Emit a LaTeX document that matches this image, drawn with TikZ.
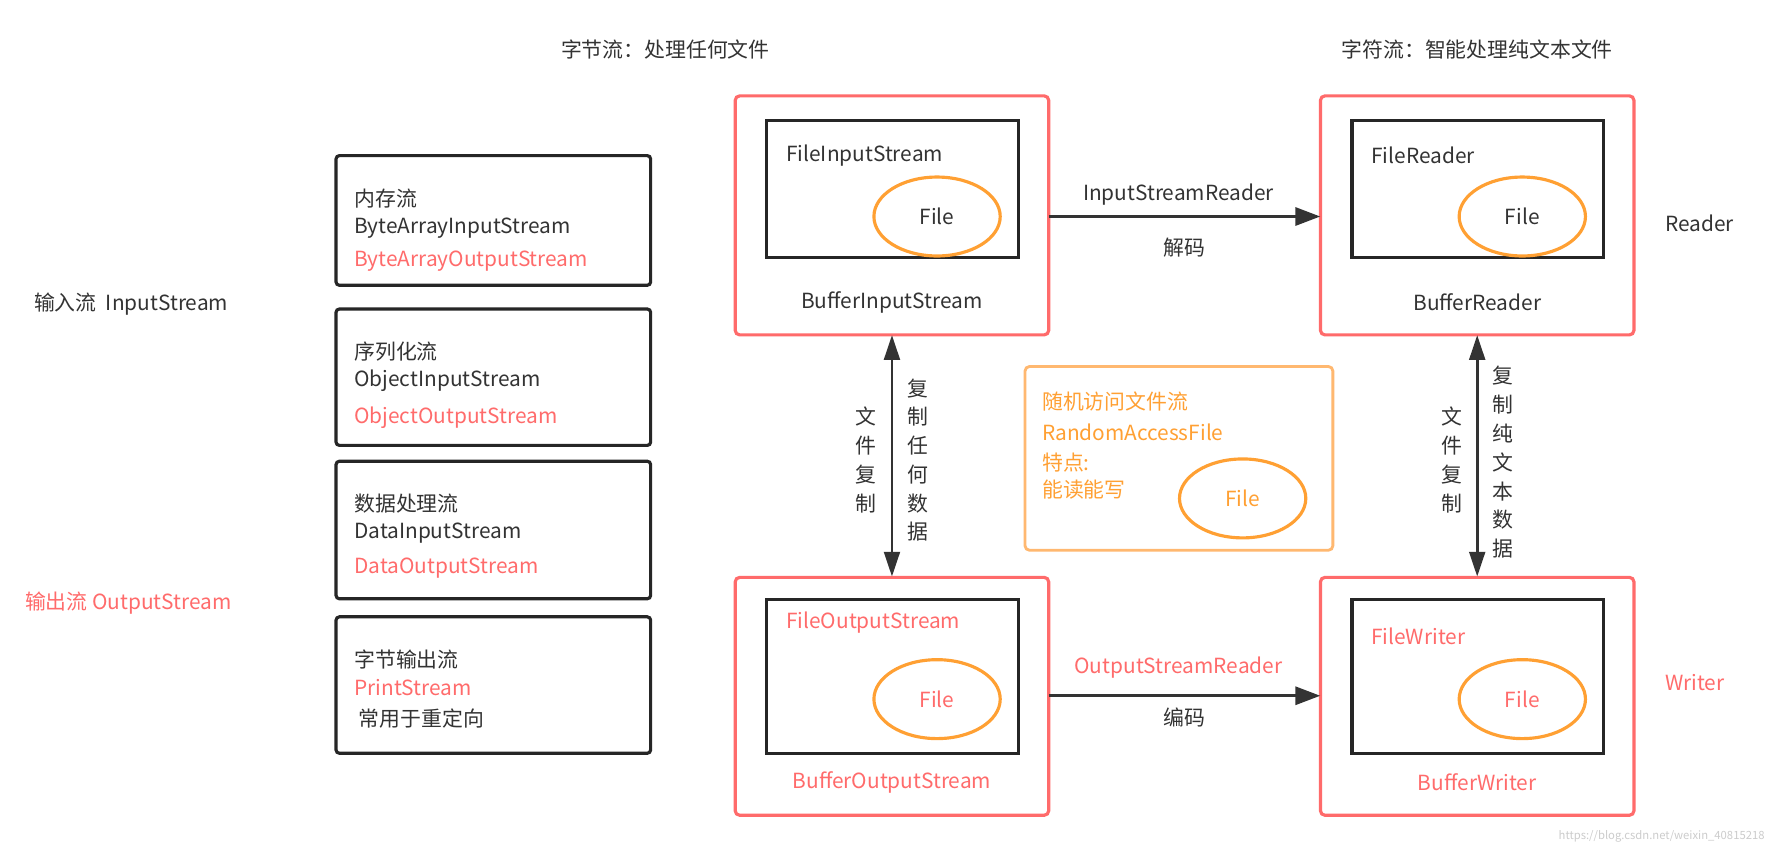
\documentclass[tikz,border=0pt]{standalone}
\usepackage{fontspec}
\setmainfont{Noto Sans CJK SC}
\usetikzlibrary{arrows.meta,shapes.geometric}
\definecolor{rd}{HTML}{FF6B6B}
\definecolor{og}{HTML}{FFA033}
\definecolor{ogb}{HTML}{FFB870}
\definecolor{dk}{HTML}{333333}
\begin{document}
\begin{tikzpicture}[x=1pt,y=-1pt,
  every node/.style={font=\fontsize{18.5}{22}\selectfont, text=dk, inner sep=0},
  red box/.style={draw=rd, line width=2.8pt, rounded corners=4pt},
  blk box/.style={draw=black!85, line width=2.8pt, rounded corners=3pt},
  inner/.style={draw=black!85, line width=2.8pt},
  ell/.style={draw=og, line width=2.8pt, ellipse, minimum width=112pt, minimum height=70pt},
  arr/.style={line width=2.5pt, draw=dk, -{Triangle[length=22pt,width=16pt]}},
  darr/.style={line width=2.5pt, draw=dk, {Triangle[length=22pt,width=14pt]}-{Triangle[length=22pt,width=14pt]}},
  lt/.style={anchor=west},
  rt/.style={text=rd}]
\fill[white] (0,0) rectangle (1567,755);
\useasboundingbox (0,0) rectangle (1567,755);
\node (t1) at (590,44) {字节流：处理任何文件};
\node (t2) at (1310,44) {字符流：智能处理纯文本文件};
\node[lt] (in) at (30,270) {输入流\ \ InputStream};
\node[lt,rt] (out) at (22,535) {输出流 OutputStream};
% left boxes
\draw[blk box] (298,138) rectangle (577,253);
\node[lt] (a1) at (314,176) {内存流};
\node[lt] (a2) at (314,202) {ByteArrayInputStream};
\node[lt,rt] (a3) at (314,232) {ByteArrayOutputStream};
\draw[blk box] (298,274) rectangle (577,395);
\node[lt] (b1) at (314,312) {序列化流};
\node[lt] (b2) at (314,338) {ObjectInputStream};
\node[lt,rt] (b3) at (314,370) {ObjectOutputStream};
\draw[blk box] (298,409) rectangle (577,531);
\node[lt] (c1) at (314,447) {数据处理流};
\node[lt] (c2) at (314,473) {DataInputStream};
\node[lt,rt] (c3) at (314,504) {DataOutputStream};
\draw[blk box] (298,547) rectangle (577,668);
\node[lt] (d1) at (314,585) {字节输出流};
\node[lt,rt] (d2) at (314,610) {PrintStream};
\node[lt] (d3) at (318,637) {常用于重定向};
% top left
\draw[red box] (652,85) rectangle (930,297);
\node (TL) at (791,191) [minimum width=278pt, minimum height=212pt] {};
\draw[inner] (680,107) rectangle (903,228);
\node[lt] (fis) at (697,138) {FileInputStream};
\node[ell] (e1) at (831,192) {File};
\node (bis) at (791,268) {BufferInputStream};
% top right
\node (TR) at (1310,191) [minimum width=278pt, minimum height=212pt] {};
\draw[red box] (1171,85) rectangle (1449,297);
\draw[inner] (1199,107) rectangle (1422,228);
\node[lt] (fr) at (1216,138) {FileReader};
\node[ell] (e2) at (1350,192) {File};
\node (br) at (1310,268) {BufferReader};
\node (rd) at (1507,198) {Reader};
% bottom left
\node (BL) at (791,617) [minimum width=278pt, minimum height=211pt] {};
\draw[red box] (652,512) rectangle (930,723);
\draw[inner] (680,532) rectangle (903,668);
\node[lt,rt] (fos) at (697,552) {FileOutputStream};
\node[ell,text=rd] (e3) at (831,620) {File};
\node[rt] (bos) at (791,694) {BufferOutputStream};
% bottom right
\node (BR) at (1310,617) [minimum width=278pt, minimum height=211pt] {};
\draw[red box] (1171,512) rectangle (1449,723);
\draw[inner] (1199,532) rectangle (1422,668);
\node[lt,rt] (fw) at (1216,564) {FileWriter};
\node[ell,text=rd] (e4) at (1350,620) {File};
\node[rt] (bw) at (1310,694) {BufferWriter};
\node[rt] (wr) at (1503,605) {Writer};
% horizontal arrows
\draw[arr] (TL.east |- e1) -- (TR.west |- e1);
\node (isr) at (1045,173) {InputStreamReader};
\node (jm) at (1050,220) {解码};
\draw[arr] (BL.east |- 0,617) -- (BR.west |- 0,617);
\node[rt] (osr) at (1045,592) {OutputStreamReader};
\node (bm) at (1050,636) {编码};
% vertical arrows
\draw[darr] (TL.south) -- (BL.north);
\draw[darr] (TR.south) -- (BR.north);
\node[align=center, font=\fontsize{18.5}{25.5}\selectfont] (v1) at (768,408) {文\\件\\复\\制};
\node[align=center, font=\fontsize{18.5}{25.5}\selectfont] (v2) at (814,408) {复\\制\\任\\何\\数\\据};
\node[align=center, font=\fontsize{18.5}{25.5}\selectfont] (v3) at (1288,408) {文\\件\\复\\制};
\node[align=center, font=\fontsize{18.5}{25.5}\selectfont] (v4) at (1333,410) {复\\制\\纯\\文\\本\\数\\据};
% random access
\draw[draw=ogb, line width=2.5pt, rounded corners=4pt] (909,325) rectangle (1182,488);
\node[lt,text=og] (r1) at (924,356) {随机访问文件流};
\node[lt,text=og] (r2) at (924,383) {RandomAccessFile};
\node[lt,text=og] (r3) at (924,410) {特点:};
\node[lt,text=og] (r4) at (924,434) {能读能写};
\node[ell,text=og] (e5) at (1102,442) {File};
\node[text=black!20, font=\fontsize{10}{12}\selectfont, anchor=east] (wm) at (1565,742) {https://blog.csdn.net/weixin\_40815218};
\end{tikzpicture}
\end{document}
